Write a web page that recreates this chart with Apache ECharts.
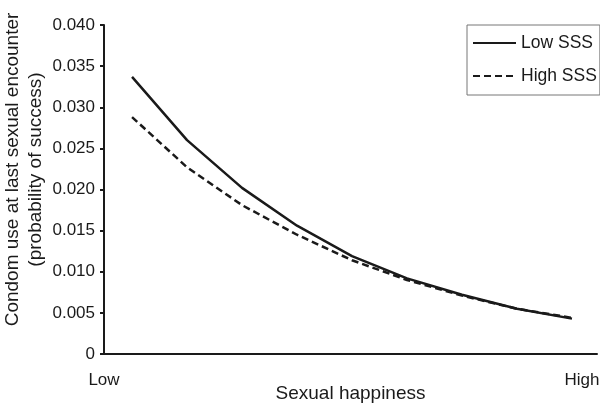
<!DOCTYPE html>
<html>
<head>
<meta charset="utf-8">
<script src="https://cdn.jsdelivr.net/npm/echarts@6/dist/echarts.min.js"></script>
<style>
  html, body { margin: 0; padding: 0; background: #fff; }
  #chart { width: 600px; height: 403px; }
</style>
</head>
<body>
<div id="chart"></div>
<script>
// sexual happiness steps, Low -> High
var steps = [1, 2, 3, 4, 5, 6, 7, 8, 9]
var lowSSS = [0.0337, 0.0260, 0.0202, 0.0156, 0.0119, 0.0092, 0.0072, 0.0055, 0.0043]
var highSSS = [0.0288, 0.0227, 0.0181, 0.0145, 0.0114, 0.0090, 0.0071, 0.0055, 0.0044]
var xLabels = ['Low', 'High']
var xLabelAt = [0.49, 9.18]

var font = '"Liberation Sans", Arial, sans-serif'
var ink = '#1a1a1a'

function pairs(ys) {
  return steps.map(function (x, i) { return [x, ys[i]] })
}

var chart = echarts.init(document.getElementById('chart'))
chart.setOption({
  animation: false,
  textStyle: { fontFamily: font },
  grid: { left: 104, right: 3, top: 25, bottom: 49, containLabel: false, outerBoundsMode: 'none' },
  legend: {
    orient: 'vertical',
    left: 467,
    top: 25,
    padding: [9, 3, 10, 5],
    itemGap: 15,
    itemWidth: 43,
    itemHeight: 20,
    borderColor: '#777',
    borderWidth: 1,
    itemStyle: { opacity: 0 },
    textStyle: { fontSize: 17.5, color: ink, fontFamily: font },
    data: ['Low SSS', 'High SSS']
  },
  xAxis: {
    type: 'value',
    min: 0.49,
    max: 9.455,
    splitLine: { show: false },
    axisTick: { show: false },
    axisLine: { lineStyle: { color: ink, width: 2 } },
    axisLabel: {
      customValues: xLabelAt,
      formatter: function (v) {
        var i = xLabelAt.indexOf(v)
        return i >= 0 ? xLabels[i] : ''
      },
      fontSize: 17,
      color: ink,
      margin: 18,
      showMinLabel: true,
      showMaxLabel: true
    },
    name: 'Sexual happiness',
    nameLocation: 'middle',
    nameGap: 30,
    nameMoveOverlap: false,
    nameTextStyle: { fontSize: 19, color: ink, fontFamily: font }
  },
  yAxis: {
    type: 'value',
    min: 0,
    max: 0.04,
    interval: 0.005,
    splitLine: { show: false },
    axisLine: { show: true, lineStyle: { color: ink, width: 2 } },
    axisTick: { show: true, length: 4, lineStyle: { color: ink, width: 2 } },
    axisLabel: {
      fontSize: 17,
      color: ink,
      margin: 9,
      formatter: function (v) { return v === 0 ? '0' : v.toFixed(3) }
    },
    name: 'Condom use at last sexual encounter\n(probability of success)',
    nameLocation: 'middle',
    nameRotate: 90,
    nameGap: 57,
    nameMoveOverlap: false,
    nameTextStyle: { fontSize: 19, color: ink, fontFamily: font, lineHeight: 23, padding: [0, 0, 0, 40] }
  },
  series: [
    {
      name: 'Low SSS',
      type: 'line',
      data: pairs(lowSSS),
      symbol: 'none',
      lineStyle: { color: ink, width: 2.5, type: 'solid' },
      itemStyle: { color: ink }
    },
    {
      name: 'High SSS',
      type: 'line',
      data: pairs(highSSS),
      symbol: 'none',
      lineStyle: { color: ink, width: 2.5, type: [7, 4] },
      itemStyle: { color: ink }
    }
  ]
})
</script>
</body>
</html>
